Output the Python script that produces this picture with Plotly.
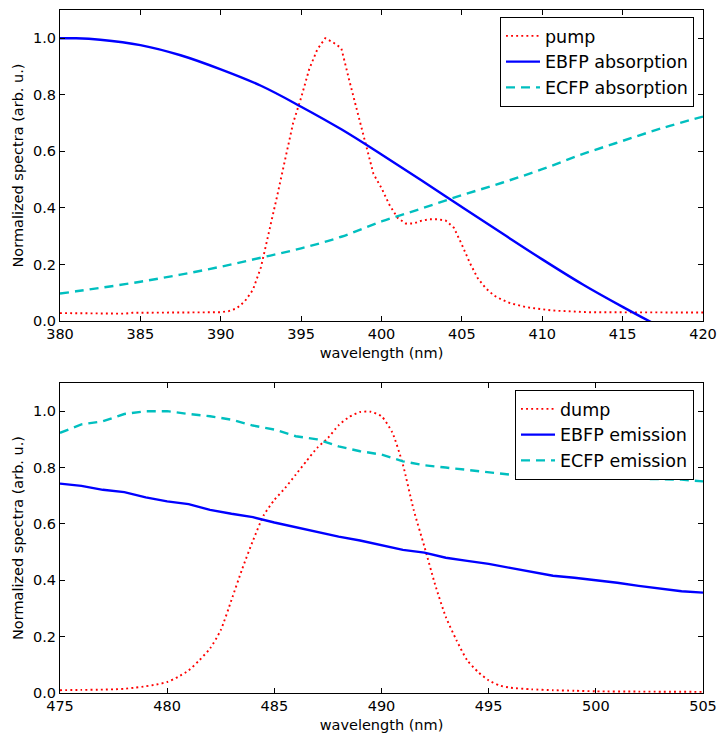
import plotly.graph_objects as go

# ---------------- data: top panel (absorption) ----------------
pump_wl = [380 + 0.5 * i for i in range(81)]
pump_val = [0.028, 0.028, 0.028, 0.027, 0.028, 0.028, 0.028, 0.028, 0.026, 0.029,
            0.029, 0.029, 0.029, 0.029, 0.029, 0.029, 0.029, 0.030, 0.030, 0.030,
            0.031, 0.035, 0.045, 0.070, 0.110, 0.190, 0.310, 0.440, 0.570, 0.700,
            0.790, 0.890, 0.960, 1.000, 0.985, 0.965, 0.850, 0.740, 0.620, 0.520,
            0.470, 0.410, 0.365, 0.345, 0.345, 0.355, 0.360, 0.360, 0.355, 0.330,
            0.270, 0.205, 0.150, 0.115, 0.090, 0.075, 0.063, 0.055, 0.049, 0.045,
            0.041, 0.038, 0.036, 0.034, 0.033, 0.032, 0.031, 0.031, 0.030, 0.030,
            0.030, 0.030, 0.030, 0.030, 0.030, 0.030, 0.030, 0.030, 0.030, 0.030,
            0.030]

abs_wl = [380, 381, 382.5, 385, 387.5, 390, 392.5, 395, 397.5, 400, 402.5,
          405, 407.5, 410, 412.5, 415, 417.5, 420]
ebfp_abs = [1.0, 1.0, 0.995, 0.976, 0.94, 0.89, 0.832, 0.758, 0.678, 0.589, 0.497,
            0.403, 0.310, 0.218, 0.130, 0.050, -0.025, -0.09]
ecfp_abs = [0.097, 0.105, 0.117, 0.139, 0.164, 0.192, 0.224, 0.257, 0.298, 0.352, 0.398,
            0.445, 0.489, 0.537, 0.59, 0.637, 0.683, 0.723]

# ---------------- data: bottom panel (emission) ----------------
dump_wl = [475, 476, 477, 477.5, 478, 478.5, 479, 479.5, 480, 480.5, 481, 481.5,
           482, 482.5, 483, 483.5, 484, 484.5, 485, 485.5, 486, 486.5, 487, 487.5,
           488, 488.5, 489, 489.5, 490, 490.5, 491, 491.5, 492, 492.5, 493, 493.5,
           494, 494.5, 495, 495.5, 496, 497, 498, 499, 500, 502, 505]
dump_val = [0.010, 0.011, 0.012, 0.013, 0.015, 0.019, 0.024, 0.030, 0.039, 0.057, 0.080, 0.116,
            0.158, 0.223, 0.330, 0.440, 0.540, 0.630, 0.685, 0.727, 0.775, 0.823, 0.870, 0.905,
            0.950, 0.980, 0.997, 0.998, 0.982, 0.925, 0.810, 0.650, 0.520, 0.385, 0.270, 0.187,
            0.116, 0.075, 0.045, 0.027, 0.019, 0.013, 0.010, 0.008, 0.006, 0.005, 0.004]

em_wl = list(range(475, 506))
ebfp_em = [0.743, 0.735, 0.721, 0.713, 0.694, 0.680, 0.670, 0.650, 0.636, 0.624,
           0.605, 0.588, 0.573, 0.555, 0.541, 0.525, 0.508, 0.498, 0.480, 0.469,
           0.458, 0.444, 0.431, 0.416, 0.409, 0.401, 0.391, 0.380, 0.370, 0.361,
           0.356]
ecfp_em = [0.923, 0.953, 0.964, 0.990, 1.000, 1.000, 0.990, 0.982, 0.970, 0.949,
           0.935, 0.911, 0.900, 0.875, 0.858, 0.846, 0.822, 0.808, 0.800, 0.792,
           0.783, 0.775, 0.771, 0.766, 0.763, 0.762, 0.762, 0.760, 0.759, 0.757,
           0.751]

top_xticks = [380, 385, 390, 395, 400, 405, 410, 415, 420]
bot_xticks = [475, 480, 485, 490, 495, 500, 505]
y_ticks = [0.0, 0.2, 0.4, 0.6, 0.8, 1.0]

RED = "#ff0000"
BLUE = "#0000ff"
CYAN = "#00bfbf"
FONT = "DejaVu Sans"
FS = 14.5
LFS = 17.5

W, H = 719, 733

fig = go.Figure()

DOT = dict(color=RED, width=1.9, dash="1.9px,3.2px")
fig.add_trace(go.Scatter(x=pump_wl, y=pump_val, name="pump", mode="lines",
                         line=DOT,
                         xaxis="x", yaxis="y", legend="legend", legendgroup="a"))
fig.add_trace(go.Scatter(x=abs_wl, y=ebfp_abs, name="EBFP absorption", mode="lines",
                         line=dict(color=BLUE, width=2.4, shape="spline"),
                         xaxis="x", yaxis="y", legend="legend", legendgroup="b"))
fig.add_trace(go.Scatter(x=abs_wl, y=ecfp_abs, name="ECFP absorption", mode="lines",
                         line=dict(color=CYAN, width=2.4, dash="9px,6px", shape="spline"),
                         xaxis="x", yaxis="y", legend="legend", legendgroup="c"))

fig.add_trace(go.Scatter(x=dump_wl, y=dump_val, name="dump", mode="lines",
                         line=dict(DOT, shape="spline", smoothing=0.6),
                         xaxis="x2", yaxis="y2", legend="legend2", legendgroup="d"))
fig.add_trace(go.Scatter(x=em_wl, y=ebfp_em, name="EBFP emission", mode="lines",
                         line=dict(color=BLUE, width=2.4),
                         xaxis="x2", yaxis="y2", legend="legend2", legendgroup="e"))
fig.add_trace(go.Scatter(x=em_wl, y=ecfp_em, name="ECFP emission", mode="lines",
                         line=dict(color=CYAN, width=2.4, dash="9px,6px"),
                         xaxis="x2", yaxis="y2", legend="legend2", legendgroup="f"))

xdom = [60 / W, 703 / W]
top_dom = [1 - 321 / H, 1 - 10 / H]
bot_dom = [1 - 693 / H, 1 - 383 / H]

common_x = dict(showgrid=False, zeroline=False, showline=True, linecolor="black",
                linewidth=1, mirror="ticks", ticks="inside", ticklen=5, tickcolor="black",
                tickfont=dict(family=FONT, size=FS, color="black"), automargin=False)
common_y = dict(common_x, range=[0, 1.1], tickvals=y_ticks, tickformat=".1f",
                title=dict(text="Normalized spectra (arb. u.)", standoff=5,
                           font=dict(family=FONT, size=FS, color="black")))

legend_common = dict(xanchor="right", yanchor="top",
                     bgcolor="white", bordercolor="black", borderwidth=1,
                     font=dict(family=FONT, size=LFS, color="black"),
                     traceorder="grouped", tracegroupgap=0, itemwidth=34)

fig.update_layout(
    width=W, height=H,
    margin=dict(l=0, r=0, t=0, b=0),
    paper_bgcolor="white", plot_bgcolor="white",
    font=dict(family=FONT, size=FS, color="black"),
    xaxis=dict(common_x, domain=xdom, range=[380, 420], tickvals=top_xticks, anchor="y",
               title=dict(text="wavelength (nm)", standoff=6,
                          font=dict(family=FONT, size=FS, color="black"))),
    yaxis=dict(common_y, domain=top_dom, anchor="x"),
    xaxis2=dict(common_x, domain=xdom, range=[475, 505], tickvals=bot_xticks, anchor="y2",
                title=dict(text="wavelength (nm)", standoff=6,
                           font=dict(family=FONT, size=FS, color="black"))),
    yaxis2=dict(common_y, domain=bot_dom, anchor="x2"),
    legend=dict(legend_common, x=694 / W, y=1 - 17 / H),
    legend2=dict(legend_common, x=694 / W, y=1 - 390 / H),
    showlegend=True,
)

fig.write_html("out.html", config={"displayModeBar": False},
               post_script="document.body.style.margin='0px';document.body.style.overflow='hidden';")
